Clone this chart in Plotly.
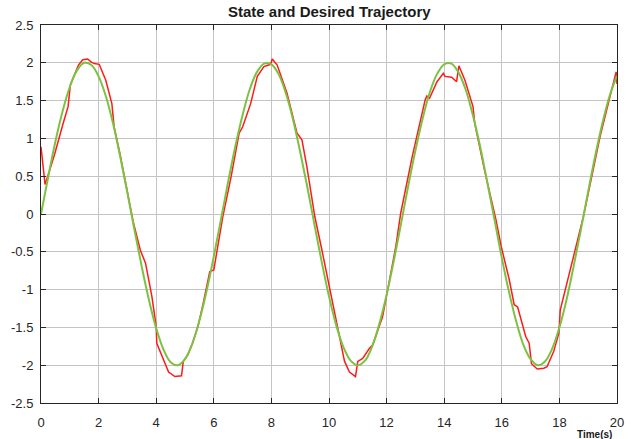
import plotly.graph_objects as go

# Desired trajectory (green), sampled every 0.25 s
t_des = [i * 0.25 for i in range(81)]
y_des = [0.00, 0.49, 0.96, 1.36, 1.68, 1.90, 2.00, 1.97, 1.82, 1.56,
         1.20, 0.76, 0.28, -0.22, -0.70, -1.14, -1.51, -1.79, -1.96, -2.00,
         -1.92, -1.72, -1.41, -1.02, -0.56, -0.07, 0.43, 0.90, 1.31, 1.65,
         1.88, 1.99, 1.98, 1.85, 1.60, 1.25, 0.82, 0.35, -0.15, -0.64,
         -1.09, -1.47, -1.76, -1.94, -2.00, -1.94, -1.75, -1.45, -1.07, -0.62,
         -0.13, 0.37, 0.84, 1.26, 1.61, 1.85, 1.98, 1.99, 1.87, 1.64,
         1.30, 0.89, 0.41, -0.08, -0.58, -1.03, -1.42, -1.73, -1.92, -2.00,
         -1.95, -1.78, -1.50, -1.13, -0.68, -0.20, 0.30, 0.78, 1.21, 1.57,
         1.83]

# Actual state (red)
t_state = [0.00, 0.07, 0.14, 0.30, 0.48, 0.77, 0.94, 1.02, 1.17, 1.30,
           1.45, 1.62, 1.75, 1.85, 2.02, 2.25, 2.46, 2.54, 2.75, 3.00,
           3.20, 3.45, 3.63, 3.85, 4.00, 4.02, 4.20, 4.43, 4.65, 4.88,
           4.94, 5.10, 5.25, 5.45, 5.65, 5.86, 6.00, 6.14, 6.31, 6.60,
           6.88, 7.00, 7.28, 7.51, 7.74, 7.97, 8.03, 8.20, 8.54, 8.89,
           9.06, 9.23, 9.51, 9.75, 9.97, 10.09, 10.37, 10.54, 10.71, 10.92,
           11.00, 11.17, 11.40, 11.52, 11.86, 12.10, 12.32, 12.49, 12.89, 13.34,
           13.40, 13.49, 13.75, 13.97, 14.03, 14.26, 14.43, 14.51, 14.72, 15.00,
           15.06, 15.40, 15.80, 15.98, 16.26, 16.43, 16.55, 16.83, 16.95, 17.03,
           17.23, 17.46, 17.57, 17.80, 17.98, 18.03, 18.38, 18.55, 18.83, 19.41,
           19.80, 19.97, 20.00]
y_state = [0.89, 0.60, 0.39, 0.58, 0.80, 1.20, 1.42, 1.71, 1.86, 1.97,
           2.04, 2.05, 2.01, 1.99, 1.98, 1.77, 1.46, 1.15, 0.78, 0.30,
           -0.10, -0.48, -0.65, -1.09, -1.49, -1.71, -1.87, -2.09, -2.15, -2.14,
           -1.95, -1.86, -1.72, -1.49, -1.15, -0.76, -0.74, -0.43, -0.04, 0.49,
           1.07, 1.15, 1.46, 1.82, 1.95, 1.98, 2.05, 1.97, 1.60, 1.07,
           0.98, 0.63, -0.04, -0.47, -0.87, -1.09, -1.62, -1.95, -2.09, -2.15,
           -1.95, -1.91, -1.78, -1.73, -1.36, -0.85, -0.43, 0.01, 0.76, 1.51,
           1.56, 1.53, 1.75, 1.86, 1.82, 1.81, 1.75, 1.96, 1.77, 1.42,
           1.20, 0.58, -0.08, -0.43, -0.87, -1.20, -1.23, -1.62, -1.71, -1.98,
           -2.05, -2.04, -2.02, -1.82, -1.58, -1.27, -0.74, -0.48, -0.04, 1.02,
           1.62, 1.88, 1.72]

x_ticks = [0, 2, 4, 6, 8, 10, 12, 14, 16, 18, 20]
y_ticks = [2.5, 2, 1.5, 1, 0.5, 0, -0.5, -1, -1.5, -2, -2.5]
y_tick_text = ["2.5", "2", "1.5", "1", "0.5", "0", "-0.5", "-1", "-1.5", "-2", "-2.5"]

fig = go.Figure()
fig.add_trace(go.Scatter(x=t_state, y=y_state, mode="lines",
                         line=dict(color="#ff1a1a", width=1.5), showlegend=False))
fig.add_trace(go.Scatter(x=t_des, y=y_des, mode="lines", line_shape="spline",
                         line=dict(color="#7cc242", width=2), showlegend=False))

axis_common = dict(
    showgrid=True, gridcolor="#c4c4c4", gridwidth=1,
    showline=True, linecolor="#262626", linewidth=1, mirror="ticks",
    ticks="inside", ticklen=5, tickcolor="#262626",
    tickfont=dict(family="Liberation Sans, Arial", size=13, color="#262626"),
    zeroline=False,
)
fig.update_xaxes(range=[0, 20], tickvals=x_ticks, ticklabelstandoff=7, **axis_common)
fig.update_yaxes(range=[-2.5, 2.5], tickvals=y_ticks, ticktext=y_tick_text,
                 ticklabelstandoff=4, **axis_common)

fig.update_layout(
    width=632, height=439,
    margin=dict(l=41, r=8, t=25, b=36),
    paper_bgcolor="white", plot_bgcolor="white",
    font=dict(family="Liberation Sans, Arial", color="#262626"),
    annotations=[
        dict(text="<b>State and Desired Trajectory</b>", xref="paper", yref="paper",
             x=0.5, y=1.0, yshift=3, xanchor="center", yanchor="bottom", showarrow=False,
             font=dict(size=15, color="#1a1a1a")),
        dict(text="<b>Time(s)</b>", xref="paper", yref="paper",
             x=0.961, y=0, yshift=-24, xanchor="center", yanchor="top", showarrow=False,
             font=dict(size=10, color="#1a1a1a")),
    ],
)

fig.write_html("out.html")
